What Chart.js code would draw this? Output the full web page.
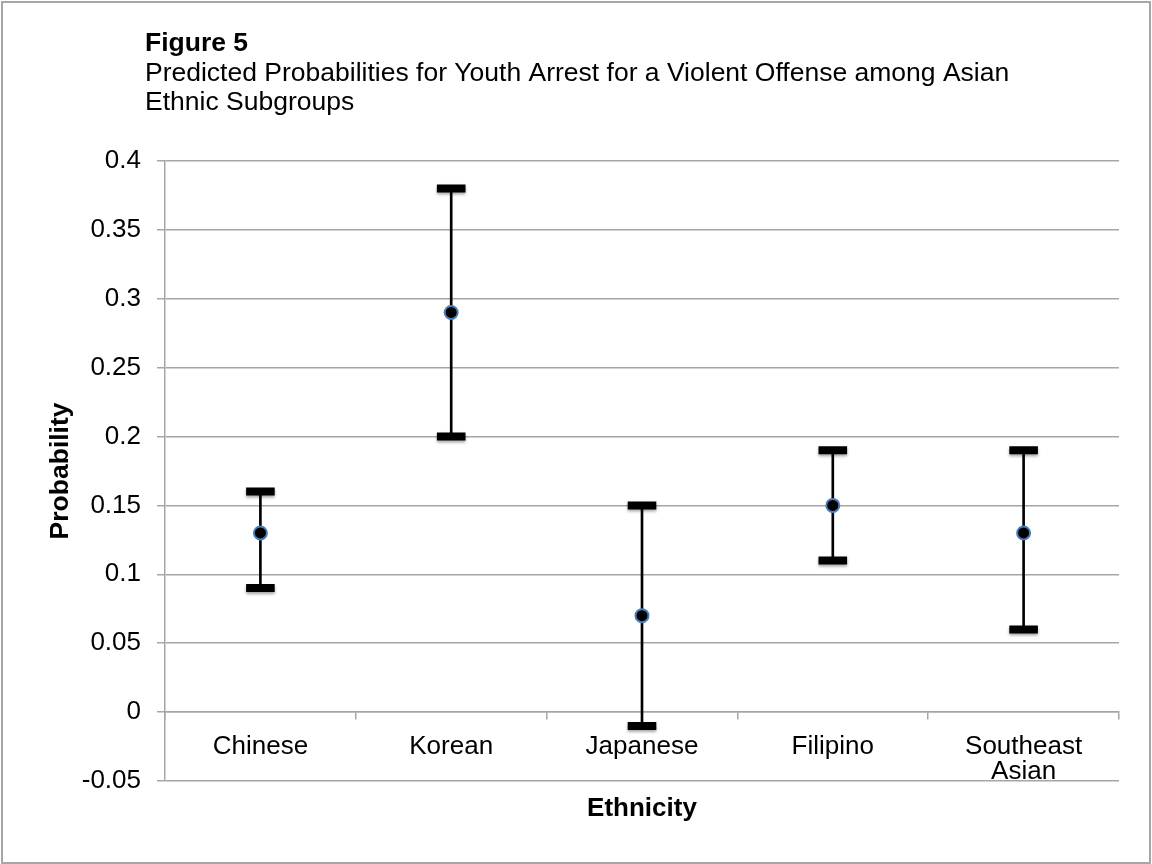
<!DOCTYPE html>
<html>
<head>
<meta charset="utf-8">
<title>Figure 5</title>
<script src="https://cdn.jsdelivr.net/npm/chart.js@4/dist/chart.umd.min.js"></script>
<style>
  html, body { margin: 0; padding: 0; background: #ffffff; }
  #chart { display: block; }
</style>
</head>
<body>
<canvas id="chart" width="1152" height="864"></canvas>
<script>
// Ethnic subgroups on the category axis
const categories = ['Chinese', 'Korean', 'Japanese', 'Filipino', ['Southeast', 'Asian']];
// Predicted probability of arrest for a violent offense
const predicted = [0.13, 0.29, 0.07, 0.15, 0.13];
// Lower and upper bounds of the interval around each estimate
const lowerBound = [0.09, 0.20, -0.01, 0.11, 0.06];
const upperBound = [0.16, 0.38, 0.15, 0.19, 0.19];
// Value axis range and tick spacing
const yMin = -0.05;
const yMax = 0.4;
const yStep = 0.05;

const FONT = "'Liberation Sans', Arial, Helvetica, sans-serif";
const GRID = '#a6a6a6';

// Whisker spans as floating bars
const whiskers = lowerBound.map((lo, i) => [lo, upperBound[i]]);

// Outer frame of the figure
const framePlugin = {
  id: 'frame',
  beforeDraw(chart) {
    const ctx = chart.ctx;
    ctx.save();
    ctx.fillStyle = '#ffffff';
    ctx.fillRect(0, 0, chart.width, chart.height);
    ctx.strokeStyle = GRID;
    ctx.lineWidth = 2;
    ctx.strokeRect(2, 2, chart.width - 4, chart.height - 3);
    ctx.restore();
  }
};

// Title and subtitle start at the same left indent
const titleIndentPlugin = {
  id: 'titleIndent',
  afterLayout(chart) {
    const tb = chart.titleBlock;
    if (!tb) return;
    chart.boxes.forEach(b => {
      if (b.constructor === tb.constructor) {
        b.left = 145;
      }
    });
  }
};

// Soft shadow under the end caps
const capShadowPlugin = {
  id: 'capShadow',
  beforeDatasetDraw(chart, args) {
    const ds = chart.data.datasets[args.index];
    if (ds.isCap) {
      const ctx = chart.ctx;
      ctx.save();
      ctx.shadowColor = 'rgba(0,0,0,0.35)';
      ctx.shadowBlur = 3;
      ctx.shadowOffsetY = 2;
    }
  },
  afterDatasetDraw(chart, args) {
    const ds = chart.data.datasets[args.index];
    if (ds.isCap) chart.ctx.restore();
  }
};

new Chart(document.getElementById('chart'), {
  type: 'bar',
  data: {
    labels: categories,
    datasets: [
      {
        label: 'Predicted probability',
        type: 'line',
        data: predicted,
        showLine: false,
        pointRadius: 6.5,
        pointHoverRadius: 6.5,
        pointBackgroundColor: '#000000',
        pointBorderColor: '#4a7ebb',
        pointBorderWidth: 2,
        order: 0
      },
      {
        label: 'Upper',
        type: 'line',
        isCap: true,
        data: upperBound,
        showLine: false,
        pointStyle: 'line',
        pointRadius: 14.3,
        pointHoverRadius: 14.3,
        pointBorderColor: '#000000',
        pointBorderWidth: 8,
        order: 1
      },
      {
        label: 'Lower',
        type: 'line',
        isCap: true,
        data: lowerBound,
        showLine: false,
        pointStyle: 'line',
        pointRadius: 14.3,
        pointHoverRadius: 14.3,
        pointBorderColor: '#000000',
        pointBorderWidth: 8,
        order: 1
      },
      {
        label: 'Interval',
        type: 'bar',
        data: whiskers,
        backgroundColor: '#000000',
        borderWidth: 0,
        barThickness: 2,
        order: 2
      }
    ]
  },
  options: {
    responsive: false,
    animation: false,
    devicePixelRatio: 1,
    layout: { autoPadding: false, padding: { top: 0, left: 0, right: 33, bottom: 39.4 } },
    plugins: {
      legend: { display: false },
      tooltip: { enabled: false },
      title: {
        display: true,
        text: 'Figure 5',
        align: 'start',
        color: '#000000',
        font: { family: FONT, size: 26.5, weight: 'bold', lineHeight: 1.1 },
        padding: { top: 28.7, bottom: 0 }
      },
      subtitle: {
        display: true,
        text: ['Predicted Probabilities for Youth Arrest for a Violent Offense among Asian', 'Ethnic Subgroups'],
        align: 'start',
        color: '#000000',
        font: { family: FONT, size: 26.5, weight: 'normal', lineHeight: 1.1 },
        padding: { top: 1.2, bottom: 43.5 }
      }
    },
    scales: {
      x: {
        type: 'category',
        position: { y: 0 },
        offset: true,
        grid: {
          offset: true,
          drawOnChartArea: false,
          drawTicks: true,
          tickLength: 7,
          color: GRID,
          lineWidth: 1.5
        },
        border: { display: true, color: GRID, width: 1.5 },
        ticks: {
          color: '#000000',
          padding: 15,
          maxRotation: 0,
          autoSkip: false,
          font: { family: FONT, size: 26, lineHeight: 0.96 }
        }
      },
      xTitle: {
        type: 'category',
        position: 'bottom',
        offset: true,
        grid: { display: false, drawTicks: false },
        border: { display: false },
        ticks: { display: false },
        title: {
          display: true,
          text: 'Ethnicity',
          color: '#000000',
          font: { family: FONT, size: 26, weight: 'bold', lineHeight: 1.2 },
          padding: { top: 12.4, bottom: 0 }
        }
      },
      y: {
        type: 'linear',
        position: 'left',
        min: yMin,
        max: yMax,
        afterFit(scale) { scale.width = 165; },
        grid: {
          color: GRID,
          lineWidth: 1.5,
          drawTicks: true,
          tickLength: 8
        },
        border: { display: true, color: GRID, width: 1.5 },
        ticks: {
          stepSize: yStep,
          color: '#000000',
          padding: 16,
          font: { family: FONT, size: 26, lineHeight: 1.2 },
          callback: v => String(parseFloat(Number(v).toFixed(2)))
        },
        title: {
          display: true,
          text: 'Probability',
          color: '#000000',
          font: { family: FONT, size: 26.5, weight: 'bold', lineHeight: 1.2 },
          padding: { top: 44.5, bottom: 7 }
        }
      }
    }
  },
  plugins: [framePlugin, titleIndentPlugin, capShadowPlugin]
});
</script>
</body>
</html>
